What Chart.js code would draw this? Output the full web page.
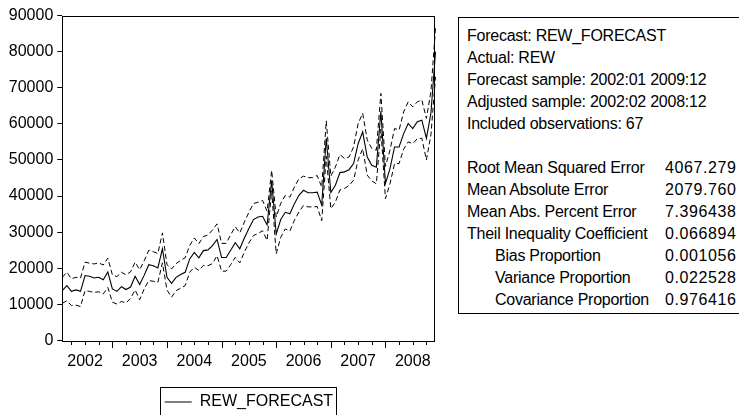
<!DOCTYPE html>
<html>
<head>
<meta charset="utf-8">
<script src="https://cdn.jsdelivr.net/npm/chart.js@4.4.1/dist/chart.umd.min.js"></script>
<style>
  html, body { margin: 0; padding: 0; background: #fff; overflow: hidden; }
  body { width: 739px; height: 415px; position: relative; font-family: "Liberation Sans", Arial, sans-serif; }
  #wrap { position: absolute; left: 0; top: 0; width: 450px; height: 425px; }
  #stats {
    position: absolute; left: 458px; top: 17px; width: 300px; height: 297px;
    border: 1px solid #000; box-sizing: border-box;
    padding: 7px 0 0 8px; font-size: 16px; line-height: 22px; color: #000;
  }
  #stats .row { position: relative; height: 22px; white-space: nowrap; letter-spacing: -0.25px; }
  #stats .ind { padding-left: 28px; }
  #stats .val { position: absolute; left: 198px; top: 0; letter-spacing: 0.6px; }
</style>
</head>
<body>
<div id="wrap"><canvas id="chart"></canvas></div>
<div id="stats"></div>
<script>
// Sample: 2002:02 .. 2008:12, monthly
const years = [2002, 2003, 2004, 2005, 2006, 2007, 2008];
const yTicks = [0, 10000, 20000, 30000, 40000, 50000, 60000, 70000, 80000, 90000];

// REW_FORECAST
const forecast = [
  13800, 15200, 13600, 14000, 13600, 18000, 17800, 17300, 17500, 16800, 19000,
  14300, 13600, 14900, 14100, 14800, 17800, 15500, 18100, 21000, 20700, 20100, 25400,
  17500, 15800, 17500, 18300, 18900, 22600, 24400, 22900, 24900, 25100, 26300, 28000,
  23000, 23000, 25000, 27100, 25400, 28400, 31000, 33500, 34200, 34400, 32000, 44300,
  29500, 33500, 35500, 35100, 37900, 40200, 41600, 40900, 40900, 41100, 37500, 56000,
  41000, 43000, 46500, 46700, 47300, 49000, 54500, 57800, 50800, 48500, 48000, 63500,
  43500, 47600, 53600, 53600, 57300, 60100, 58700, 60600, 61000, 56000, 63000, 80000
];
// + 2 S.E.
const upper = [
  17500, 18900, 17100, 17500, 17300, 21700, 21400, 21200, 21500, 20900, 22800,
  18200, 17700, 18900, 18200, 19000, 21700, 19600, 22100, 25000, 24600, 24100, 29800,
  21000, 19800, 21300, 22200, 22900, 26300, 28400, 26800, 28800, 29200, 30600, 32300,
  26900, 26900, 29300, 31500, 29800, 32800, 35500, 37900, 38300, 38800, 35800, 47100,
  34200, 38000, 40200, 39700, 42500, 44800, 45500, 45100, 45100, 45700, 42500, 60800,
  45500, 48000, 51500, 50400, 50800, 53600, 60100, 62900, 55500, 53200, 52700, 68400,
  48200, 52700, 58700, 58300, 63300, 66100, 64700, 66100, 66600, 61500, 69000, 86500
];
// - 2 S.E.
const lower = [
  10300, 11000, 9700, 9800, 9400, 13800, 13600, 13300, 13500, 12900, 14700,
  10600, 10100, 10800, 10400, 11700, 14000, 11300, 14300, 16600, 16400, 16100, 21500,
  14000, 12000, 13800, 14500, 15200, 18900, 20300, 19400, 20800, 20700, 21300, 23500,
  19200, 19200, 21000, 23000, 21500, 24500, 27000, 29100, 29600, 30400, 27700, 41500,
  24000, 28600, 30900, 30300, 33300, 35600, 37400, 37000, 37000, 37100, 33200, 51000,
  36500, 38300, 41700, 42100, 42900, 44400, 50000, 53100, 45800, 44200, 43400, 58500,
  39300, 43400, 49000, 49000, 53000, 55000, 54500, 55900, 56000, 50000, 57000, 73000
];

// Forecast evaluation table
const statHead = [
  'Forecast: REW_FORECAST',
  'Actual: REW',
  'Forecast sample: 2002:01 2009:12',
  'Adjusted sample: 2002:02 2008:12',
  'Included observations: 67'
];
const statNames = ['Root Mean Squared Error', 'Mean Absolute Error', 'Mean Abs. Percent Error',
  'Theil Inequality Coefficient', 'Bias Proportion', 'Variance Proportion', 'Covariance Proportion'];
const statValues = ['4067.279', '2079.760', '7.396438', '0.066894', '0.001056', '0.022528', '0.976416'];

// month labels like 2002:02
const labels = [];
years.forEach(y => {
  for (let m = 1; m <= 12; m++) {
    if (y === 2002 && m === 1) continue;
    labels.push(y + ':' + String(m).padStart(2, '0'));
  }
});

// stats box
const statsEl = document.getElementById('stats');
let html = statHead.map(t => `<div class="row">${t}</div>`).join('');
html += '<div class="row"></div>';
statNames.forEach((n, i) => {
  html += `<div class="row"><span class="${i >= 4 ? 'ind' : ''}">${n}</span><span class="val">${statValues[i]}</span></div>`;
});
statsEl.innerHTML = html;

Chart.defaults.font.family = '"Liberation Sans", Arial, sans-serif';
Chart.defaults.font.size = 16;
Chart.defaults.color = '#000';

// frame, quarterly ticks and legend box
const eviewsFrame = {
  id: 'eviewsFrame',
  afterDraw(chart) {
    const ctx = chart.ctx;
    const a = chart.chartArea;
    const x = chart.scales.x;
    ctx.save();
    ctx.strokeStyle = '#000';
    ctx.lineWidth = 1;
    ctx.strokeRect(Math.round(a.left) + 0.5, Math.round(a.top) + 0.5,
      Math.round(a.right - a.left) - 1, Math.round(a.bottom - a.top));
    ctx.beginPath();
    x.ticks.forEach(t => {
      const px = Math.round(x.getPixelForValue(t.value)) + 0.5;
      const len = labels[t.value].endsWith(':01') ? 7 : 4;
      ctx.moveTo(px, Math.round(a.bottom));
      ctx.lineTo(px, Math.round(a.bottom) + len);
    });
    ctx.stroke();
    const hb = chart.legend.legendHitBoxes[0];
    if (hb) {
      ctx.strokeRect(Math.round(hb.left) - 4.5, Math.round(hb.top) - 6.5,
        Math.round(hb.width) + 8, 60);
    }
    ctx.restore();
  }
};

const ctx = document.getElementById('chart').getContext('2d');
new Chart(ctx, {
  type: 'line',
  data: {
    labels: labels,
    datasets: [
      { label: 'REW_FORECAST', data: forecast, borderColor: '#000', borderWidth: 1.1,
        pointRadius: 0, tension: 0, fill: false },
      { label: 'upper', data: upper, borderColor: '#000', borderWidth: 1,
        borderDash: [5, 3], pointRadius: 0, tension: 0, fill: false },
      { label: 'lower', data: lower, borderColor: '#000', borderWidth: 1,
        borderDash: [5, 3], pointRadius: 0, tension: 0, fill: false }
    ]
  },
  options: {
    responsive: true,
    maintainAspectRatio: false,
    animation: false,
    layout: { padding: { top: 15.5, right: 14.5, left: 0, bottom: 5 } },
    plugins: {
      tooltip: { enabled: false },
      legend: {
        position: 'bottom',
        fullSize: false,
        labels: {
          usePointStyle: true,
          pointStyle: 'line',
          pointStyleWidth: 27,
          padding: 10,
          color: '#000',
          filter: item => item.datasetIndex === 0
        }
      }
    },
    scales: {
      x: {
        type: 'category',
        offset: false,
        grid: { display: true, drawOnChartArea: false, drawTicks: false },
        border: { display: false },
        afterBuildTicks: scale => {
          scale.ticks = scale.ticks.filter(t => {
            const m = labels[t.value].slice(5);
            return m === '01' || m === '04' || m === '07' || m === '10';
          });
        },
        afterFit: scale => { scale.height = 43.5; },
        ticks: {
          autoSkip: false,
          maxRotation: 0,
          padding: 11,
          callback: function (value) {
            const lab = labels[value];
            return lab.endsWith(':07') ? lab.slice(0, 4) : '';
          }
        }
      },
      y: {
        min: 0,
        max: 90000,
        grid: { drawOnChartArea: false, drawTicks: true, tickLength: 5, color: '#000' },
        border: { display: false },
        afterFit: scale => { scale.width = 62.3; },
        afterBuildTicks: scale => {
          scale.ticks = yTicks.map(v => ({ value: v }));
        },
        ticks: {
          padding: 4,
          callback: v => String(v)
        }
      }
    }
  },
  plugins: [eviewsFrame]
});
</script>
</body>
</html>
